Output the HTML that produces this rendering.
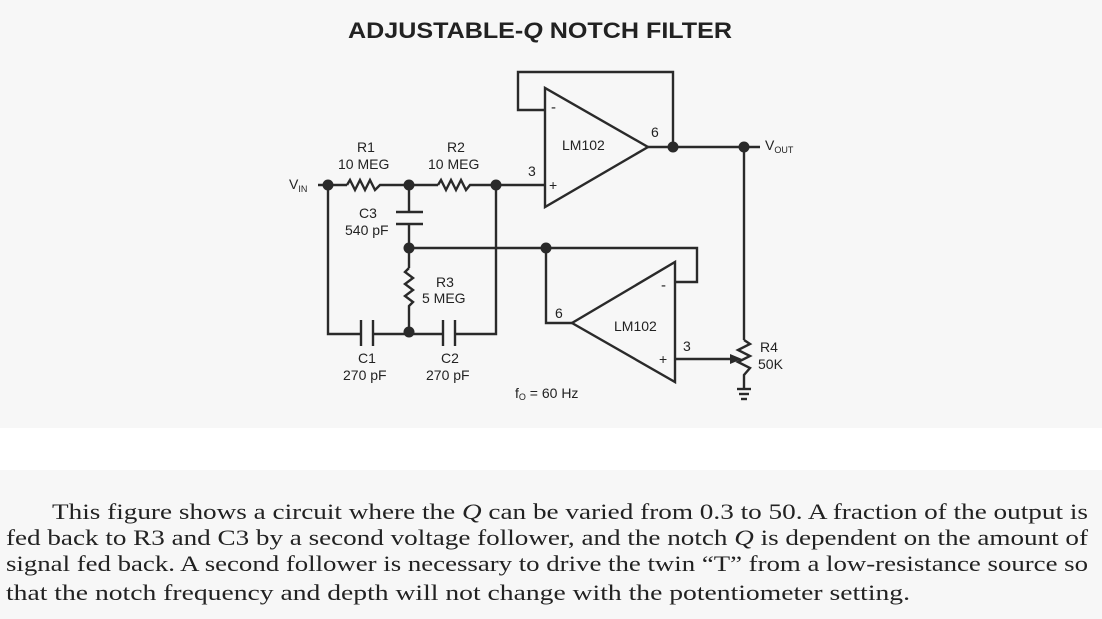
<!DOCTYPE html>
<html><head><meta charset="utf-8"><style>
html,body{margin:0;padding:0;background:#f7f7f7;}
svg{display:block;}
</style></head><body>
<svg width="1102" height="619" viewBox="0 0 1102 619" xmlns="http://www.w3.org/2000/svg">
<rect x="0" y="0" width="1102" height="619" fill="#f7f7f7"/>
<rect x="0" y="428" width="1102" height="42" fill="#ffffff"/>
<text x="348" y="38" font-family="Liberation Sans, sans-serif" font-weight="bold" font-size="22" fill="#222" textLength="384" lengthAdjust="spacingAndGlyphs">ADJUSTABLE-<tspan font-style="italic">Q</tspan> NOTCH FILTER</text>
<g stroke="#2a2a2a" stroke-width="2.4" fill="none" stroke-linejoin="miter">
<line x1="318" y1="185" x2="347" y2="185"/>
<polyline points="347,185 350,180 355,190 360,180 365,190 370,180 375,190 380,185 409,185"/>
<line x1="409" y1="185" x2="438" y2="185"/>
<polyline points="438,185 441,180 446,190 451,180 456,190 461,180 466,190 470,185 545,185"/>
<line x1="409" y1="185" x2="409" y2="212"/>
<line x1="396" y1="212" x2="423" y2="212"/>
<line x1="396" y1="224" x2="423" y2="224"/>
<line x1="409" y1="224" x2="409" y2="268"/>
<line x1="409" y1="248" x2="546" y2="248"/>
<polyline points="409,268 405,272 413,278 405,284 413,290 405,296 413,302 409,306 409,332"/>
<polyline points="328,185 328,334 361,334"/>
<line x1="361" y1="320" x2="361" y2="346"/>
<line x1="373" y1="320" x2="373" y2="346"/>
<line x1="373" y1="334" x2="443" y2="334"/>
<line x1="443" y1="320" x2="443" y2="346"/>
<line x1="455" y1="320" x2="455" y2="346"/>
<polyline points="455,334 496,334 496,185"/>
<polygon points="545,88 545,207 648,147"/>
<polyline points="545,110 518,110 518,72 673,72 673,147"/>
<line x1="648" y1="147" x2="760" y2="147"/>
<line x1="744" y1="147" x2="744" y2="340"/>
<polyline points="744,340 750,344 738,350 750,356 738,362 750,368 744,375 744,388"/>
<line x1="737" y1="389" x2="751" y2="389"/>
<line x1="739" y1="394" x2="749" y2="394"/>
<line x1="741" y1="399" x2="747" y2="399"/>
<polygon points="675,262 675,382 572,323"/>
<polyline points="675,282 697,282 697,248 546,248 546,323 572,323"/>
<line x1="675" y1="359" x2="732" y2="359"/>
</g>
<polygon points="742,359 730,354 730,364" fill="#2a2a2a"/>
<g fill="#2a2a2a">
<circle cx="328" cy="185" r="5.5"/><circle cx="409" cy="185" r="5.5"/><circle cx="496" cy="185" r="5.5"/>
<circle cx="409" cy="248" r="5.5"/><circle cx="546" cy="248" r="5.5"/><circle cx="409" cy="332" r="5.5"/>
<circle cx="673" cy="147" r="5.5"/><circle cx="744" cy="147" r="5.5"/>
</g>
<g font-family="Liberation Sans, sans-serif" font-size="14" fill="#222">
<text x="289" y="189">V<tspan font-size="9" dy="3">IN</tspan></text>
<text x="357" y="152">R1</text><text x="338" y="169">10 MEG</text>
<text x="447" y="152">R2</text><text x="428" y="169">10 MEG</text>
<text x="359" y="218">C3</text><text x="345" y="235">540 pF</text>
<text x="436" y="287">R3</text><text x="422" y="303">5 MEG</text>
<text x="358" y="363">C1</text><text x="343" y="380">270 pF</text>
<text x="441" y="363">C2</text><text x="426" y="380">270 pF</text>
<text x="528" y="176">3</text><text x="651" y="137">6</text>
<text x="551" y="112" font-size="15">-</text><text x="549" y="190">+</text>
<text x="562" y="150">LM102</text>
<text x="765" y="150">V<tspan font-size="9" dy="3">OUT</tspan></text>
<text x="555" y="318">6</text><text x="683" y="351">3</text>
<text x="661" y="290" font-size="15">-</text><text x="659" y="364">+</text>
<text x="614" y="331">LM102</text>
<text x="760" y="352">R4</text><text x="758" y="369">50K</text>
<text x="515" y="398">f<tspan font-size="9" dy="2">O</tspan><tspan dy="-2"> = 60 Hz</tspan></text>
</g>
<g font-family="Liberation Serif, serif" font-size="22" fill="#222">
<text x="52" y="519" textLength="1036" lengthAdjust="spacingAndGlyphs">This figure shows a circuit where the <tspan font-style="italic">Q</tspan> can be varied from 0.3 to 50. A fraction of the output is</text>
<text x="6" y="545" textLength="1082" lengthAdjust="spacingAndGlyphs">fed back to R3 and C3 by a second voltage follower, and the notch <tspan font-style="italic">Q</tspan> is dependent on the amount of</text>
<text x="6" y="571" textLength="1082" lengthAdjust="spacingAndGlyphs">signal fed back. A second follower is necessary to drive the twin “T” from a low-resistance source so</text>
<text x="6" y="600" textLength="904" lengthAdjust="spacingAndGlyphs">that the notch frequency and depth will not change with the potentiometer setting.</text>
</g>
</svg>
</body></html>
